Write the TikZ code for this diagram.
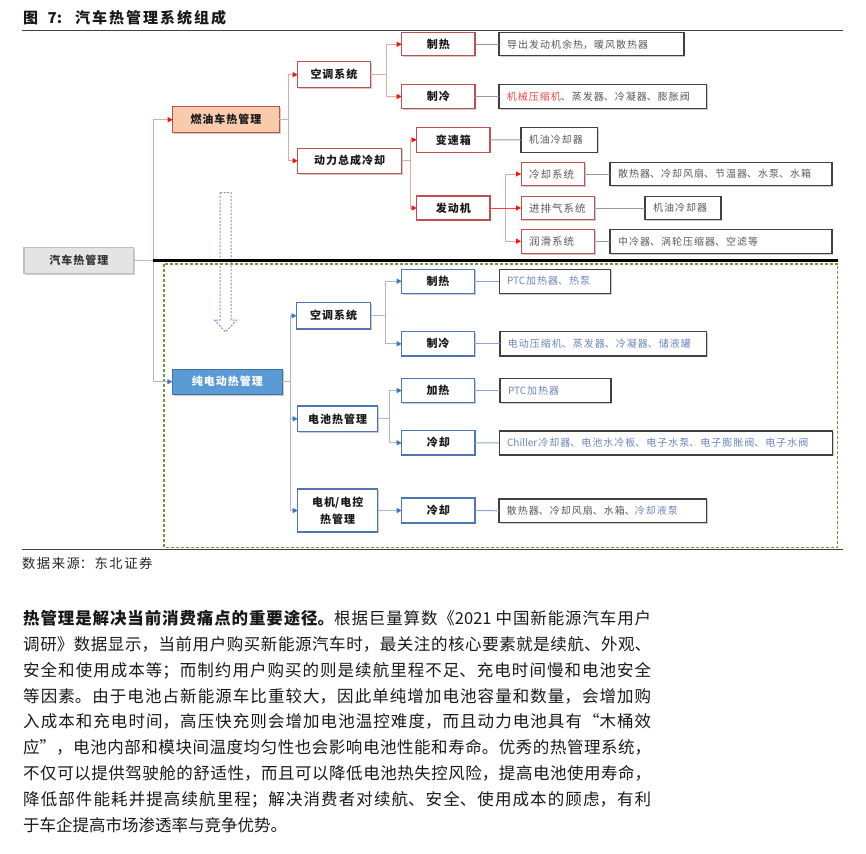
\documentclass[tikz,border=0pt]{standalone}
\usepackage{fontspec}
\setmainfont{Noto Sans CJK SC}
\usetikzlibrary{arrows.meta,shadows}
\XeTeXlinebreaklocale "zh"
\XeTeXlinebreakskip=0pt plus 1pt
\definecolor{uRed}{HTML}{C0504D}
\definecolor{uLine}{HTML}{E2A9A9}
\definecolor{uTip}{HTML}{FF1010}
\definecolor{peach}{HTML}{F8CBAD}
\definecolor{lBlue}{HTML}{4F75B5}
\definecolor{lLine}{HTML}{A9B7D1}
\definecolor{lTip}{HTML}{4472C4}
\definecolor{lConn}{HTML}{8EA6CE}
\definecolor{evFill}{HTML}{5B9BD5}
\definecolor{evDraw}{HTML}{41719C}
\definecolor{dGray}{HTML}{404040}
\definecolor{tGray}{HTML}{595959}
\definecolor{tBlue}{HTML}{6A86BE}
\definecolor{tRed}{HTML}{E8474B}
\definecolor{grn}{HTML}{77933C}
\definecolor{carFill}{HTML}{E4E4E4}
\definecolor{arrBlue}{HTML}{7F93B8}
\newcommand\labfont{\fontsize{11}{13}\selectfont\bfseries\XeTeXlinebreakskip=1pt\relax}
\newcommand\labfonttwo{\fontsize{11}{17}\selectfont\bfseries\XeTeXlinebreakskip=1pt\relax}
\newcommand\subfont{\fontsize{10.5}{13}\selectfont\XeTeXlinebreakskip=1pt\relax}
\newcommand\detfont{\fontsize{10}{12}\selectfont\XeTeXlinebreakskip=1pt\relax}
\begin{document}
\begin{tikzpicture}[x=1pt,y=-1pt,
  shd/.style={drop shadow={shadow xshift=1.2pt,shadow yshift=-1.2pt,fill=black,opacity=0.2}},
  sz/.style 2 args={minimum width=#1pt,text width=#1pt,minimum height=#2pt},
  lab/.style={draw,line width=1.1pt,fill=white,inner sep=0pt,outer sep=0pt,align=center,font=\labfont,text=black!90,shd},
  ulab/.style={lab,draw=uRed},
  llab/.style={lab,draw=lBlue},
  usub/.style={draw=uRed,line width=1.1pt,fill=white,inner sep=0pt,outer sep=0pt,align=left,font=\subfont,text=tGray,shd,execute at begin node={\hspace*{8pt}}},
  det/.style={draw=dGray,line width=1.1pt,fill=white,inner sep=0pt,outer sep=0pt,align=left,font=\detfont,text=tGray,shd,execute at begin node={\hspace*{8pt}}},
  uarr/.style={draw=uLine,line width=1pt,-{Triangle[length=5pt,width=5pt,color=uTip]}},
  larr/.style={draw=lLine,line width=1pt,-{Triangle[length=5pt,width=5pt,color=lTip]}},
  uconn/.style={draw=black!40,line width=1pt},
  lconn/.style={draw=lConn,line width=1pt},
  rule/.style={draw=black!75,line width=0.8pt}
]
\useasboundingbox (0,0) rectangle (866,853);

% title
\node[anchor=base west,inner sep=0pt,font=\fontsize{15}{17}\selectfont\bfseries,text=black!90] (tfig) at (23,24) {图};
\node[anchor=base west,inner sep=0pt,font=\fontsize{15}{17}\selectfont\bfseries,text=black!90] (tnum) at (47.5,24) {7:};
\node[anchor=base west,inner sep=0pt,text=black!90] (ttitle) at (75,24)
  {\parbox[t]{300pt}{\raggedright\fontsize{15}{17}\selectfont\bfseries\XeTeXlinebreakskip=2pt\relax 汽车热管理系统组成}};
\coordinate (tl1) at (22,30);
\coordinate (tl2) at (843,30);
\draw[rule] (tl1) -- (tl2);

% hollow dashed arrow
\draw[arrBlue,dash pattern=on 2pt off 1.5pt,line width=1pt,fill=white]
  (220,192.7) -- (231,192.7) -- (231,320) -- (236.7,320) -- (225.5,332) -- (214.3,320) -- (220,320) -- cycle;

% green dashed frame
\draw[grn,dash pattern=on 3pt off 2pt,line width=1.2pt] (164,264) rectangle (837.3,547.5);

% ---------- upper tree ----------
\node[ulab,sz={106.6}{26},fill=peach] (rf) at (226,119.7) {燃油车热管理};
\node[ulab,sz={72.6}{26}] (ua) at (334,74.7) {空调系统};
\node[ulab,sz={104}{25}] (up) at (349.7,160.8) {动力总成冷却};
\node[ulab,sz={73.3}{23.3}] (uh) at (438.3,44.3) {制热};
\node[ulab,sz={73.3}{24.4}] (uc) at (438.3,96.5) {制冷};
\node[ulab,sz={73.3}{25}] (ut) at (453.3,139.8) {变速箱};
\node[ulab,sz={73.3}{24}] (ue) at (453.3,208) {发动机};
\node[usub,sz={63.3}{23.4}] (ucs) at (552.7,174) {冷却系统};
\node[usub,sz={73.3}{23.6}] (uie) at (557.7,208) {进排气系统};
\node[usub,sz={73.3}{24.3}] (ul) at (557.7,241.2) {润滑系统};

\node[det,sz={185}{23.3}] (d1) at (591.5,44.3) {导出发动机余热，暖风散热器};
\node[det,sz={207.7}{24.4}] (d2) at (602.8,96.5) {{\color{tRed}机械压缩机}、蒸发器、冷凝器、膨胀阀};
\node[det,sz={76.7}{24.6}] (d3) at (559.3,140) {机油冷却器};
\node[det,sz={222}{23.4}] (d4) at (721,174) {散热器、冷却风扇、节温器、水泵、水箱};
\node[det,sz={76}{23.6}] (d5) at (683,208) {机油冷却器};
\node[det,sz={222}{24.3}] (d6) at (721,241.2) {中冷器、涡轮压缩器、空滤等};

\draw[uarr] (rf.east) -- ++(9,0) |- (ua.west);
\draw[uarr] (rf.east) -- ++(9,0) |- (up.west);
\draw[uarr] (ua.east) -- ++(15.7,0) |- (uh.west);
\draw[uarr] (ua.east) -- ++(15.7,0) |- (uc.west);
\draw[uarr] (up.east) -- ++(8.3,0) |- (ut.west);
\draw[uarr] (up.east) -- ++(8.3,0) |- (ue.west);
\draw[uarr] (ue.east) -- ++(16,0) |- (ucs.west);
\draw[uarr] (ue.east) -- ++(16,0) |- (ul.west);
\draw[uarr,draw=uTip!80] (ue.east) -- (uie.west);

\draw[uconn] (uh.east) -- (d1.west);
\draw[uconn] (uc.east) -- (d2.west);
\draw[uconn] (ut.east) -- (d3.west);
\draw[uconn] (ucs.east) -- (d4.west);
\draw[uconn] (uie.east) -- (d5.west);
\draw[uconn] (ul.east) -- (d6.west);

% ---------- root ----------
\node[lab,sz={109.7}{26},fill=carFill,draw=black!25,text=black!80] (car) at (78.8,260.3) {汽车热管理};
\coordinate (jn) at (153.3,260.3);
\coordinate (bend) at (838,260.3);
\draw[uarr,-] (car.east) -- (jn);
\draw[uarr] (jn) |- (rf.west);

% ---------- lower tree ----------
\node[lab,sz={110}{25.3},fill=evFill,draw=evDraw,text=white] (ev) at (227.3,381.7) {纯电动热管理};
\draw[larr] (jn) |- (ev.west);
\draw[line width=3.5pt,black] (jn) -- (bend);

\node[llab,sz={74}{26.3}] (la) at (333.7,315.8) {空调系统};
\node[llab,sz={80}{25.7}] (lb) at (337.7,418.8) {电池热管理};
\node[llab,sz={80}{43},font=\labfonttwo] (lm) at (337.7,510.5) {电机/电控\\热管理};
\node[llab,sz={72.6}{24.3}] (lh) at (438,281.2) {制热};
\node[llab,sz={72.6}{24.3}] (lc) at (438,343.8) {制冷};
\node[llab,sz={72.6}{24.4}] (lj) at (438,390.5) {加热};
\node[llab,sz={73.3}{24.3}] (lbc) at (438.3,442.8) {冷却};
\node[llab,sz={73.3}{25}] (lmc) at (438.3,510.5) {冷却};

\node[det,sz={111.3}{24.3},text=tBlue] (e1) at (554.7,281.2) {PTC加热器、热泵};
\node[det,sz={206.7}{24.3},text=tBlue] (e2) at (603.3,343.8) {电动压缩机、蒸发器、冷凝器、储液罐};
\node[det,sz={111}{24.4},text=tBlue] (e3) at (555.5,390.5) {PTC加热器};
\node[det,sz={333.3}{24},text=tBlue] (e4) at (665.7,443) {Chiller冷却器、电池水冷板、电子水泵、电子膨胀阀、电子水阀};
\node[det,sz={207.7}{23.7}] (e5) at (602.8,510.8) {散热器、冷却风扇、水箱、{\color{tBlue}冷却液泵}};

\draw[larr] (ev.east) -- ++(7.7,0) |- (la.west);
\draw[larr] (ev.east) -- ++(7.7,0) |- (lb.west);
\draw[larr] (ev.east) -- ++(7.7,0) |- (lm.west);
\draw[larr] (la.east) -- ++(15,0) |- (lh.west);
\draw[larr] (la.east) -- ++(15,0) |- (lc.west);
\draw[larr] (lb.east) -- ++(11.6,0) |- (lj.west);
\draw[larr] (lb.east) -- ++(11.6,0) |- (lbc.west);
\draw[larr] (lm.east) -- (lmc.west);

\draw[lconn] (lh.east) -- (e1.west);
\draw[lconn] (lc.east) -- (e2.west);
\draw[lconn] (lj.east) -- (e3.west);
\draw[lconn] (lbc.east) -- (e4.west);
\draw[lconn] (lmc.east) -- (e5.west);

% footer
\coordinate (fl1) at (22,549.5);
\coordinate (fl2) at (843,549.5);
\draw[rule] (fl1) -- (fl2);
\node[anchor=base west,inner sep=0pt,text=black!85] (src) at (22,568.8)
  {\parbox[t]{300pt}{\raggedright\fontsize{13.3}{15}\selectfont\XeTeXlinebreakskip=1.5pt\relax 数据来源：东北证券}};

% body text
\node[anchor=base west,inner sep=0pt,text=black!90] (body) at (23,624.3)
  {\parbox[t]{628pt}{\fontsize{16.5}{25.9}\selectfont\XeTeXlinebreakskip=0pt plus 4pt\relax
  \textbf{热管理是解决当前消费痛点的重要途径。}根据巨量算数《2021 中国新能源汽车用户\linebreak
  调研》数据显示，当前用户购买新能源汽车时，最关注的核心要素就是续航、外观、\linebreak
  安全和使用成本等；而制约用户购买的则是续航里程不足、充电时间慢和电池安全\linebreak
  等因素。由于电池占新能源车比重较大，因此单纯增加电池容量和数量，会增加购\linebreak
  入成本和充电时间，高压快充则会增加电池温控难度，而且动力电池具有“木桶效\linebreak
  应”，电池内部和模块间温度均匀性也会影响电池性能和寿命。优秀的热管理系统，\linebreak
  不仅可以提供驾驶舱的舒适性，而且可以降低电池热失控风险，提高电池使用寿命，\linebreak
  降低部件能耗并提高续航里程；解决消费者对续航、安全、使用成本的顾虑，有利\linebreak
  于车企提高市场渗透率与竞争优势。}};
\end{tikzpicture}
\end{document}
